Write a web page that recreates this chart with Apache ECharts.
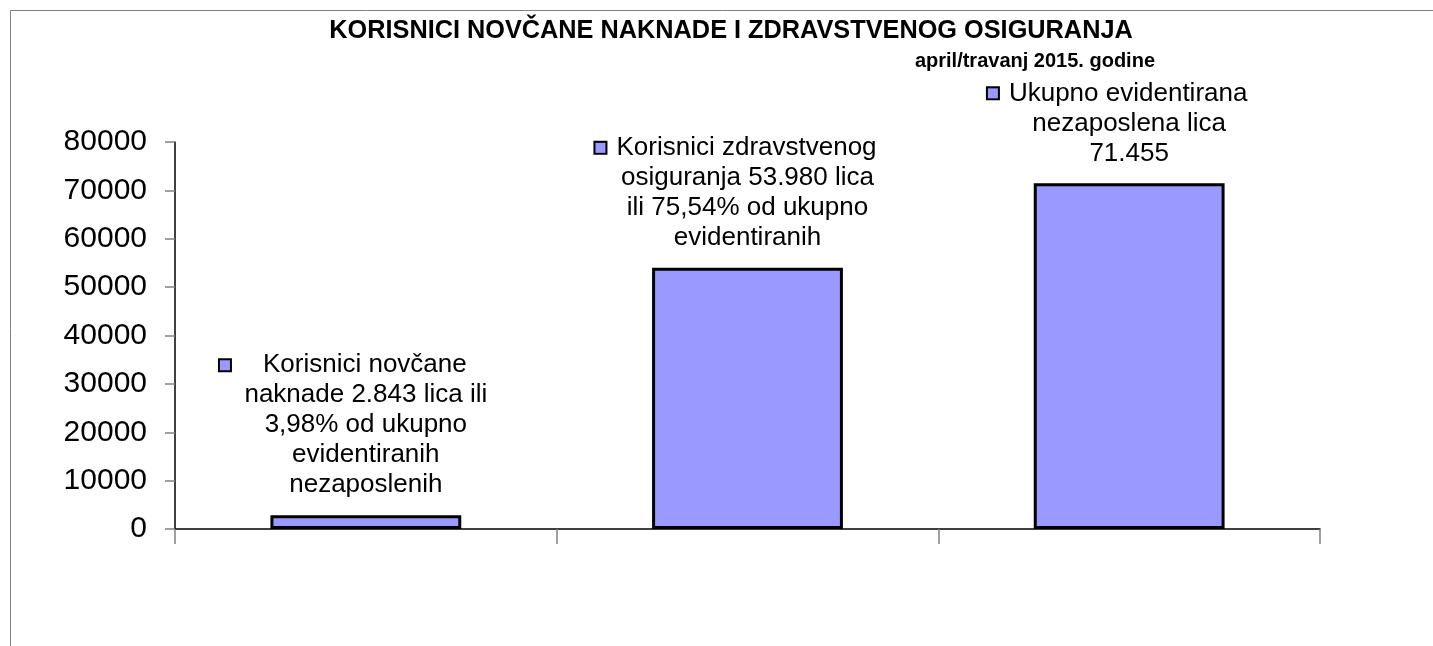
<!DOCTYPE html>
<html>
<head>
<meta charset="utf-8">
<title>Korisnici novčane naknade i zdravstvenog osiguranja</title>
<script src="https://cdn.jsdelivr.net/npm/echarts@6/dist/echarts.min.js"></script>
<style>
  html, body { margin: 0; padding: 0; background: #fff; }
  #main { width: 1433px; height: 646px; }
</style>
</head>
<body>
<div id="main"></div>
<script>
// kategorije i vrijednosti
let categories = ['Korisnici novčane naknade', 'Korisnici zdravstvenog osiguranja', 'Ukupno evidentirana nezaposlena lica'];
let values = [2843, 53980, 71455];
let labelLines = [
    ['Korisnici novčane', 'naknade 2.843 lica ili', '3,98% od ukupno', 'evidentiranih', 'nezaposlenih'],
    ['Korisnici zdravstvenog', 'osiguranja 53.980 lica', 'ili 75,54% od ukupno', 'evidentiranih'],
    ['Ukupno evidentirana', 'nezaposlena lica', '71.455']
];
let yMin = 0, yMax = 80000, yStep = 10000;
let titleText = 'KORISNICI NOVČANE NAKNADE I ZDRAVSTVENOG OSIGURANJA';
let subtitleText = 'april/travanj 2015. godine';

let barColor = '#9999FF';
let font = 'Liberation Sans, Arial, sans-serif';

let myChart = echarts.init(document.getElementById('main'));

// oznaka (kvadratić) ispred prvog reda, razmak zavisi od labele
let gapNames = ['gw', 'gn', 'gn'];
let padNames = ['pw', 'pn', 'pn'];

let option = {
    animation: false,
    backgroundColor: '#fff',
    textStyle: { fontFamily: font },
    title: [
        {
            text: titleText,
            left: 731,
            top: 31,
            padding: 0,
            textAlign: 'center',
            textVerticalAlign: 'middle',
            textStyle: { fontFamily: font, fontSize: 25.3, fontWeight: 'bold', color: '#000' }
        },
        {
            text: subtitleText,
            left: 1155,
            top: 61,
            padding: 0,
            textAlign: 'right',
            textVerticalAlign: 'middle',
            textStyle: { fontFamily: font, fontSize: 20, fontWeight: 'bold', color: '#000' }
        }
    ],
    graphic: [
        {
            type: 'rect',
            shape: { x: 10.5, y: 10.5, width: 1600, height: 800 },
            style: { fill: null, stroke: '#808080', lineWidth: 1 },
            silent: true
        }
    ],
    grid: { left: 175, right: 113, top: 142, bottom: 117 },
    xAxis: {
        type: 'category',
        data: categories,
        axisLine: { lineStyle: { color: '#000', width: 1.5 } },
        axisTick: { show: true, length: 15, lineStyle: { color: '#808080', width: 1.5 } },
        axisLabel: { show: false },
        splitLine: { show: false }
    },
    yAxis: {
        type: 'value',
        min: yMin,
        max: yMax,
        interval: yStep,
        axisLine: { show: true, lineStyle: { color: '#000', width: 1.5 } },
        axisTick: { show: true, length: 10, lineStyle: { color: '#808080', width: 1.5 } },
        axisLabel: {
            margin: 28, fontSize: 30, color: '#000', fontFamily: font,
            formatter: function (v) { return String(v); }
        },
        splitLine: { show: false }
    },
    series: [
        {
            type: 'bar',
            data: values,
            barWidth: '50%',
            itemStyle: { color: barColor, borderColor: '#000', borderWidth: 3 },
            label: {
                show: true,
                position: 'top',
                distance: 15,
                color: '#000',
                fontFamily: font,
                fontSize: 26,
                lineHeight: 30,
                formatter: function (p) {
                    let lines = labelLines[p.dataIndex];
                    let g = gapNames[p.dataIndex], pad = padNames[p.dataIndex];
                    let first = '{m|}{' + g + '|}' + lines[0] + '{' + pad + '|}';
                    return [first].concat(lines.slice(1)).join('\n');
                },
                rich: {
                    m: { width: 10, height: 10, backgroundColor: barColor, borderColor: '#000', borderWidth: 2 },
                    gw: { width: 33 },
                    gn: { width: 11 },
                    pw: { width: 45 },
                    pn: { width: 23 }
                }
            }
        }
    ]
};

myChart.setOption(option);
</script>
</body>
</html>
